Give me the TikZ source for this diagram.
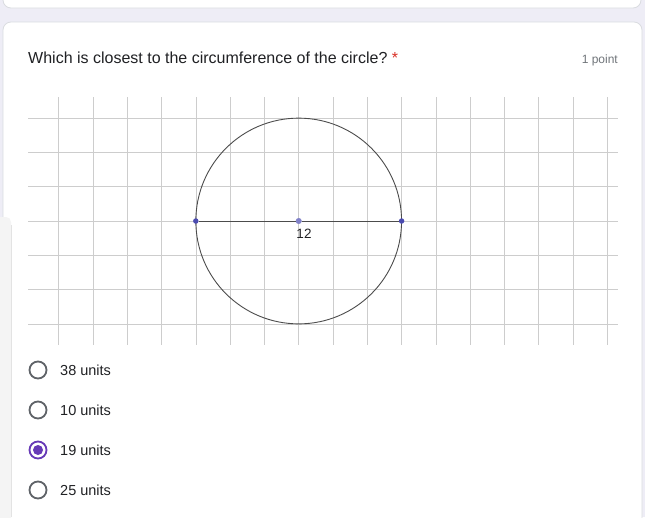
\documentclass[tikz,border=0pt]{standalone}
\usepackage{fontspec}
\setmainfont{Liberation Sans}
\definecolor{pagebg}{HTML}{EEEDF6}
\definecolor{cardline}{HTML}{DADCE0}
\definecolor{gridc}{HTML}{CDCDCD}
\definecolor{ptblue}{HTML}{4B4BB0}
\definecolor{ptlight}{HTML}{8080C8}
\definecolor{radiog}{HTML}{5F6368}
\definecolor{purp}{HTML}{673AB7}
\definecolor{txt}{HTML}{202124}
\definecolor{sub}{HTML}{70757A}
\definecolor{req}{HTML}{D93025}
\tikzset{
  x=1pt, y=-1pt,
  card/.style={fill=white, draw=cardline, line width=0.8pt, rounded corners=8pt},
  gridline/.style={draw=gridc, line width=0.65pt},
  pt/.style={circle, fill=ptblue, inner sep=0pt, minimum size=5.5pt},
  ptc/.style={circle, fill=ptlight, draw=ptblue!70, line width=0.4pt, inner sep=0pt, minimum size=5.5pt},
  radio/.style={circle, draw=radiog, line width=1.8pt, inner sep=0pt, minimum size=17pt},
  radiosel/.style={circle, draw=purp, line width=1.8pt, inner sep=0pt, minimum size=17pt},
  opt/.style={anchor=west, text=txt, font=\fontsize{14.5}{16}\selectfont, inner sep=0pt}
}
\begin{document}
\begin{tikzpicture}
\useasboundingbox (0,0) rectangle (645,517);
\fill[pagebg] (0,0) rectangle (645,517);
% cards
\path[card] (3,-12) rectangle (641,8);
\path[card] (3,22) rectangle (642,530);
% left overlay strip
\fill[gray!9, rounded corners=5pt] (-5,217) rectangle (11,530);
\draw[gray!22, line width=0.8pt] (11,225) -- (11,517);
% title
\node[anchor=base west, text=txt, font=\fontsize{16}{19}\selectfont, inner sep=0pt] (title) at (28,63) {Which is closest to the circumference of the circle?};
\node[anchor=base west, text=req, font=\fontsize{16}{19}\selectfont, inner sep=0pt] (star) at ([xshift=4pt]title.base east) {*};
\node[anchor=base east, text=sub, font=\fontsize{12}{14}\selectfont, inner sep=0pt] (pts) at (618,63) {1 point};
% grid
\foreach \k in {0,...,16} {
  \draw[gridline] ({58.7+34.29*\k},97) -- ({58.7+34.29*\k},345);
}
\foreach \j in {0,...,6} {
  \draw[gridline] (28,{118.2+34.29*\j}) -- (618,{118.2+34.29*\j});
}
% circle
\coordinate (O) at (298.7,221);
\draw[draw=black!70, line width=0.9pt] (O) circle[radius=102.87];
\node[pt] (A) at (195.8,221) {};
\node[pt] (B) at (401.6,221) {};
\node[ptc] (C) at (O) {};
\draw[draw=black!70, line width=0.9pt] (A) -- (C) -- (B);
\node[text=txt, font=\fontsize{13.5}{15}\selectfont, inner sep=0pt] (lab) at (304,234) {12};
% options
\node[radio] (r1) at (38,370) {};
\node[opt] (o1) at (60,370) {38 units};
\node[radio] (r2) at (38,410) {};
\node[opt] (o2) at (60,410) {10 units};
\node[radiosel] (r3) at (38,450) {};
\fill[purp] (r3.center) circle[radius=5];
\node[opt] (o3) at (60,450) {19 units};
\node[radio] (r4) at (38,490) {};
\node[opt] (o4) at (60,490) {25 units};
\end{tikzpicture}
\end{document}
